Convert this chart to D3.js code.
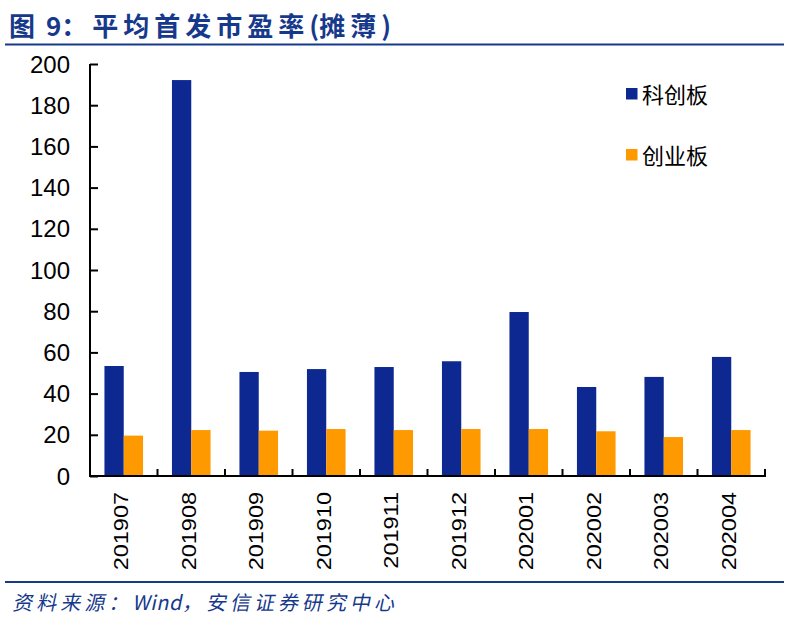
<!DOCTYPE html>
<html>
<head>
<meta charset="utf-8">
<script src="https://cdn.jsdelivr.net/npm/d3@7"></script>
<style>
body { margin: 0; background: #fff; }
svg { display: block; }
</style>
</head>
<body>
<script>
var months = ["201907","201908","201909","201910","201911","201912","202001","202002","202003","202004"];
var star = [53.4, 192.2, 50.5, 51.9, 52.9, 55.7, 79.6, 43.2, 48.1, 57.8];
var chinext = [19.6, 22.3, 22.0, 22.8, 22.3, 22.8, 22.8, 21.7, 18.9, 22.3];
var seriesNames = ["科创板", "创业板"];
var seriesColors = ["#0D2890", "#FF9900"];
var yTicks = [0, 20, 40, 60, 80, 100, 120, 140, 160, 180, 200];
var titleParts = [["图", 5], [" 9", 0], ["：", 5], ["平均首发市盈率", 5], ["(", 0], ["摊薄", 5], [")", 0]];
var sourceParts = [["资料来源：", 4], ["Wind", 0.5], ["，安信证券研究中心", 4]];

var W = 791, H = 618;
var margin = {left: 90, right: 26, top: 64, bottom: 142};
var titleColor = "#16398C";

var svg = d3.select("body").append("svg").attr("width", W).attr("height", H);

// title and rules
var title = svg.append("text").attr("x", 9).attr("y", 36)
	.attr("font-family", "Noto Sans CJK SC").attr("font-weight", "bold")
	.attr("font-size", 26).attr("fill", titleColor);
titleParts.forEach(function(p){
	title.append("tspan").attr("letter-spacing", p[1]).text(p[0]);
});
svg.append("line").attr("x1", 5).attr("x2", 784).attr("y1", 44.5).attr("y2", 44.5)
	.attr("stroke", titleColor).attr("stroke-width", 2);
svg.append("line").attr("x1", 5).attr("x2", 784).attr("y1", 582).attr("y2", 582)
	.attr("stroke", titleColor).attr("stroke-width", 2);
var source = svg.append("text").attr("x", 12).attr("y", 610)
	.attr("font-family", "Noto Sans CJK SC")
	.attr("font-size", 20).attr("fill", titleColor)
	.attr("transform", "translate(130,0) skewX(-12)");
sourceParts.forEach(function(p){
	source.append("tspan").attr("letter-spacing", p[1]).text(p[0]);
});

var x = d3.scaleBand().domain(months).range([margin.left, W - margin.right]);
var y = d3.scaleLinear().domain([0, 200]).range([H - margin.bottom, margin.top]);
var barW = 19.3;

var g = svg.append("g");
[star, chinext].forEach(function(values, si){
	g.selectAll(".s" + si).data(values).enter().append("rect")
		.attr("x", function(d, i){ return x(months[i]) + x.bandwidth() / 2 - barW + si * barW; })
		.attr("y", function(d){ return y(d); })
		.attr("width", barW)
		.attr("height", function(d){ return y(0) - y(d); })
		.attr("fill", seriesColors[si]);
});

// y axis
var yAxis = svg.append("g").attr("transform", "translate(" + margin.left + ",0)")
	.call(d3.axisRight(y).tickValues(yTicks).tickSize(8).tickFormat(""));
yAxis.select(".domain").attr("stroke", "#000").attr("stroke-width", 2).attr("d", "M0," + y(200) + "V" + y(0));
yAxis.selectAll(".tick line").attr("stroke", "#000").attr("stroke-width", 2);
svg.append("g").selectAll("text").data(yTicks).enter().append("text")
	.attr("x", 70).attr("y", function(d){ return y(d) + 8.5; })
	.attr("text-anchor", "end")
	.attr("font-family", "Liberation Sans, Arial").attr("font-size", 24)
	.text(function(d){ return d; });

// x axis
var xEdges = months.map(function(m){ return x(m); }).concat([W - margin.right]);
var xAxis = svg.append("g");
xAxis.append("line").attr("x1", margin.left - 1).attr("x2", W - margin.right + 1)
	.attr("y1", y(0)).attr("y2", y(0)).attr("stroke", "#000").attr("stroke-width", 2);
xAxis.selectAll(".xt").data(xEdges.slice(1)).enter().append("line")
	.attr("x1", function(d){ return d; }).attr("x2", function(d){ return d; })
	.attr("y1", y(0)).attr("y2", y(0) - 7)
	.attr("stroke", "#000").attr("stroke-width", 2);
xAxis.selectAll(".xl").data(months).enter().append("text")
	.attr("transform", function(d){ return "translate(" + (x(d) + x.bandwidth() / 2 + 4.5) + "," + 492 + ") rotate(-90) scale(1,0.85)"; })
	.attr("text-anchor", "end")
	.attr("font-family", "Liberation Sans, Arial").attr("font-size", 23.5)
	.text(function(d){ return d; });

// legend
var legend = svg.append("g");
seriesNames.forEach(function(name, i){
	var ly = 88 + i * 61;
	legend.append("rect").attr("x", 626).attr("y", ly).attr("width", 11.5).attr("height", 11.5)
		.attr("fill", seriesColors[i]);
	legend.append("text").attr("x", 642).attr("y", ly + 15)
		.attr("font-family", "Noto Sans CJK SC").attr("font-size", 22)
		.text(name);
});
</script>
</body>
</html>
